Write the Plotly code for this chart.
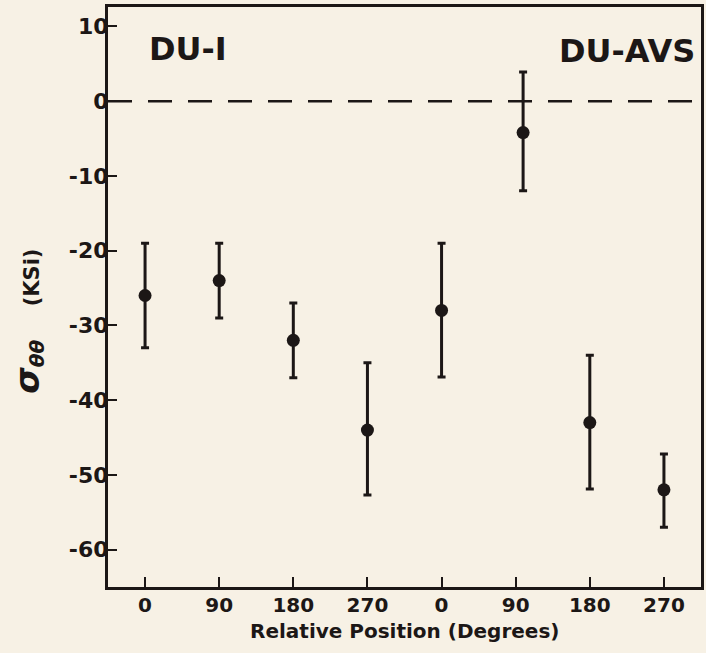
import plotly.graph_objects as go

# relative position (degrees) for the two specimens, plotted side by side
tick_labels = ["0", "90", "180", "270", "0", "90", "180", "270"]
positions = [0, 1, 2, 3, 4, 5.1, 6, 7]

# hoop stress sigma_theta_theta (KSi) with scatter bands
stress = [-26, -24, -32, -44, -28, -4.2, -43, -52]
err_plus = [7, 5, 5, 9, 9, 8.1, 9, 4.8]
err_minus = [7, 5, 5, 8.7, 8.9, 7.8, 8.9, 5]

y_ticks = [10, 0, -10, -20, -30, -40, -50, -60]

ink = "#1c1716"
bg = "#f7f1e5"
font = "DejaVu Sans, Liberation Sans, sans-serif"

fig = go.Figure()

fig.add_hline(y=0, line=dict(color=ink, width=2.5, dash="24px,16px"), layer="below")

fig.add_trace(go.Scatter(
    x=positions, y=stress,
    mode="markers",
    marker=dict(color=ink, size=13),
    error_y=dict(type="data", symmetric=False, array=err_plus, arrayminus=err_minus,
                 color=ink, thickness=3, width=4),
    showlegend=False,
))

fig.update_xaxes(
    range=[-0.5, 7.5],
    tickvals=list(range(len(tick_labels))),
    ticktext=["<b>%s</b>" % t for t in tick_labels],
    ticks="inside", ticklen=10, tickwidth=2, tickcolor=ink,
    ticklabelstandoff=-2,
    showline=True, linecolor=ink, linewidth=3, mirror=True,
    showgrid=False, zeroline=False,
    tickfont=dict(family=font, size=20, color=ink),
)
fig.update_yaxes(
    range=[-65, 12.6],
    tickvals=y_ticks,
    ticktext=["<b>%d</b>" % v if v >= 0 else "<b>-%d</b>" % -v for v in y_ticks],
    ticks="inside", ticklen=9, tickwidth=2, tickcolor=ink,
    ticklabelstandoff=-8,
    showline=True, linecolor=ink, linewidth=3, mirror=True,
    showgrid=False, zeroline=False,
    tickfont=dict(family=font, size=22, color=ink),
)

fig.add_annotation(text="<b>Relative Position (Degrees)</b>", xref="paper", yref="paper",
                   x=0.5, y=-0.076, xanchor="center", yanchor="middle", showarrow=False,
                   font=dict(family=font, size=20, color=ink))
fig.add_annotation(text="<b>DU-I</b>", xref="paper", yref="paper", x=0.065, y=0.927,
                   xanchor="left", yanchor="middle", showarrow=False,
                   font=dict(family=font, size=32, color=ink))
fig.add_annotation(text="<b>DU-AVS</b>", xref="paper", yref="paper", x=0.993, y=0.924,
                   xanchor="right", yanchor="middle", showarrow=False,
                   font=dict(family=font, size=32, color=ink))
fig.add_annotation(text="<b><i><span style='font-size:34px'>σ</span></i></b>"
                        "<sub><b><i><span style='font-size:20px'>θθ</span></i></b></sub>"
                        "     <b>(KSi)</b>",
                   xref="paper", yref="paper", x=-0.135, y=0.459,
                   xanchor="center", yanchor="middle", textangle=-90, showarrow=False,
                   font=dict(family=font, size=21, color=ink))

fig.update_layout(
    width=706, height=653,
    margin=dict(l=108, r=2, t=7, b=66),
    paper_bgcolor=bg, plot_bgcolor=bg,
    font=dict(family=font, color=ink),
)

fig.write_html("out.html", config={"displayModeBar": False},
               post_script="document.body.style.margin='0';document.body.style.background='%s';" % bg)
